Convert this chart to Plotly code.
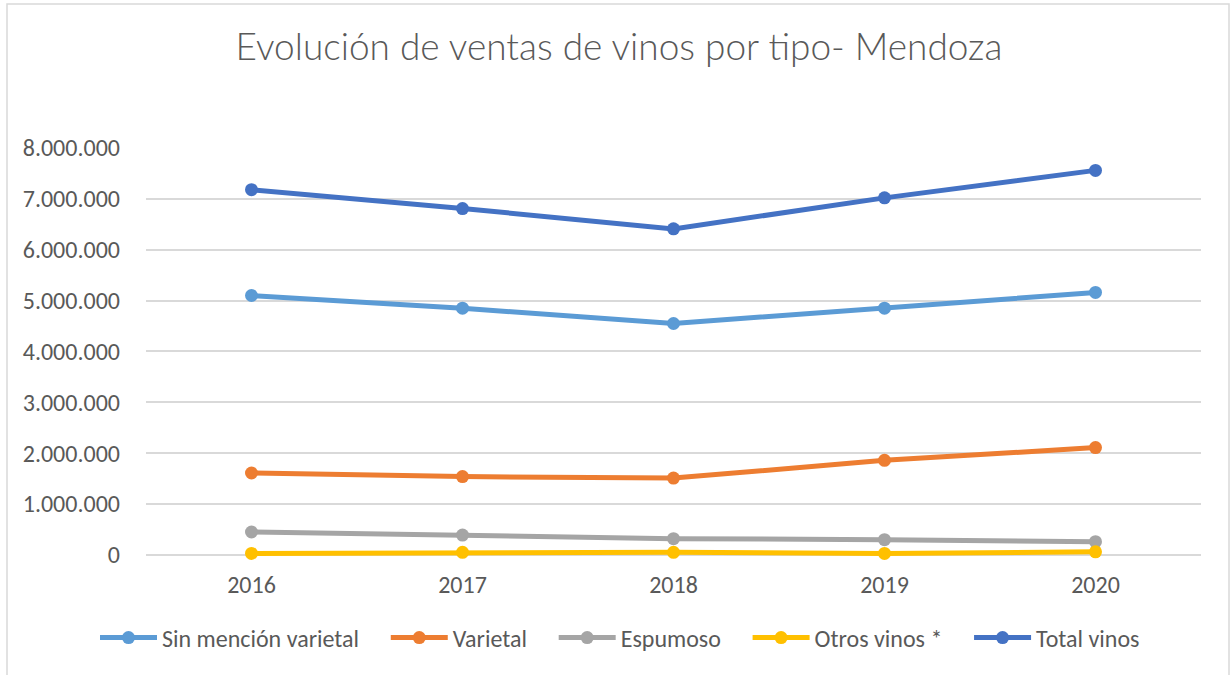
import plotly.graph_objects as go

years = ["2016", "2017", "2018", "2019", "2020"]
sin_mencion = [5100000, 4850000, 4550000, 4850000, 5160000]
varietal = [1610000, 1540000, 1510000, 1860000, 2110000]
espumoso = [450000, 390000, 320000, 300000, 260000]
otros = [30000, 50000, 50000, 30000, 60000]
total = [7180000, 6810000, 6410000, 7020000, 7560000]

series_names = ["Sin mención varietal", "Varietal", "Espumoso", "Otros vinos *", "Total vinos"]
series_values = [sin_mencion, varietal, espumoso, otros, total]
series_colors = ["#5B9BD5", "#ED7D31", "#A5A5A5", "#FFC000", "#4472C4"]

FONT = "Carlito, Lato, 'Open Sans', sans-serif"
GRAY = "#595959"
PAD = "\u00a0" * 4  # extra spacing between legend entries

fig = go.Figure()
for i, (name, vals, color) in enumerate(zip(series_names, series_values, series_colors)):
    label = name + (PAD if i < len(series_names) - 1 else "")
    fig.add_trace(go.Scatter(
        x=years, y=vals, name=label, mode="lines+markers",
        line=dict(color=color, width=5),
        marker=dict(color=color, size=13),
        cliponaxis=False,
    ))

W, H = 1231, 675
L, R, T, B = 146, 30, 148, 115
YMIN, YMAX = -100000, 8000000
pw, ph = W - L - R, H - T - B

def px_x(p):
    return (p - L) / pw

def px_y(p):
    return (H - B - p) / ph

fig.update_layout(
    width=W, height=H,
    margin=dict(l=L, r=R, t=T, b=B),
    paper_bgcolor="white", plot_bgcolor="white",
    separators=",.",
    font=dict(family=FONT, color=GRAY, size=24),
    title=dict(
        text="Evolución de ventas de vinos por tipo- Mendoza",
        x=619 / W, xanchor="center", y=1 - 47 / H, yanchor="middle",
        font=dict(family="'Lato Light', Carlito, Lato, sans-serif", size=37, color=GRAY, weight=300),
    ),
    xaxis=dict(
        type="category", range=[-0.5, 4.5], showgrid=False,
        showline=False, ticks="", ticklabelstandoff=8,
        tickfont=dict(size=24, color=GRAY),
        zeroline=False,
    ),
    yaxis=dict(
        range=[YMIN, YMAX], tickvals=[i * 1000000 for i in range(9)],
        tickformat=",d",
        showgrid=True, gridcolor="#D9D9D9", gridwidth=1.5,
        zeroline=False, showline=False, ticks="",
        ticklabelstandoff=25,
        tickfont=dict(size=24, color=GRAY),
    ),
    legend=dict(
        orientation="h", x=px_x(620), xanchor="center",
        y=px_y(638), yanchor="middle",
        font=dict(size=24, color=GRAY),
        itemwidth=57, tracegroupgap=0,
    ),
    showlegend=True,
    shapes=[dict(
        type="rect", xref="paper", yref="paper",
        x0=px_x(7), x1=px_x(1229), y0=px_y(700), y1=px_y(4),
        line=dict(color="#D9D9D9", width=1.5), fillcolor="rgba(0,0,0,0)",
        layer="below",
    )],
)

fig.write_html("out.html", config={"displayModeBar": False})

# remove the default 8px page margin so the figure sits at the window origin
with open("out.html", "r", encoding="utf-8") as f:
    html = f.read()
html = html.replace("<head>", "<head><style>body{margin:0;}</style>", 1)
with open("out.html", "w", encoding="utf-8") as f:
    f.write(html)
